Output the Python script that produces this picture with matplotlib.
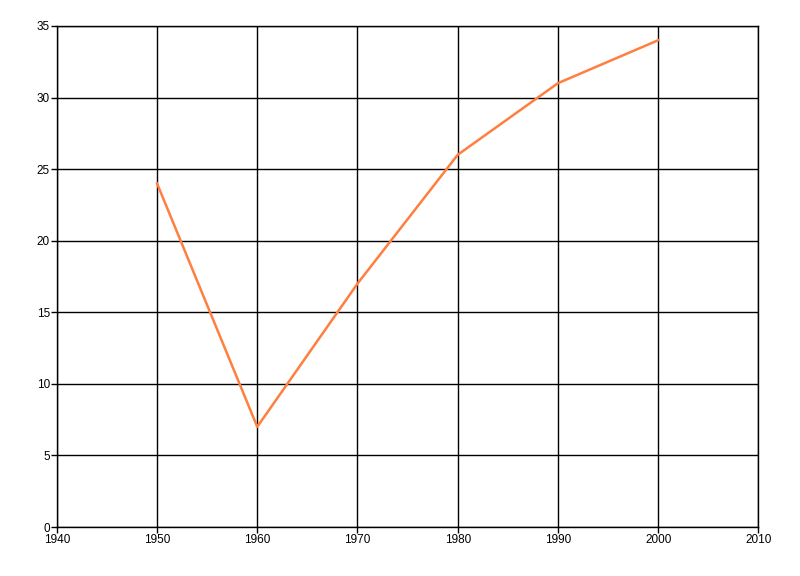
import matplotlib.pyplot as plt

years = [1950, 1960, 1970, 1980, 1990, 2000]
values = [24, 7, 17, 26, 31, 34]

plt.rcParams['font.family'] = ['Liberation Sans', 'DejaVu Sans']

fig = plt.figure(figsize=(8, 5.76), dpi=100)
ax = fig.add_axes([0.071, 0.085, 0.877, 0.87])

ax.plot(years, values, color='#FF7F3F', linewidth=1.8)

ax.set_xlim(1940, 2010)
ax.set_ylim(0, 35)
ax.set_xticks(range(1940, 2011, 10))
ax.set_yticks(range(0, 36, 5))

ax.grid(True, color='black', linewidth=1)
ax.set_axisbelow(True)
for s in ax.spines.values():
    s.set_linewidth(1)
    s.set_color('black')

ax.tick_params(labelsize=8.5, length=4, width=1, pad=1, labelcolor='black')

fig.savefig('out.png', dpi=100)
